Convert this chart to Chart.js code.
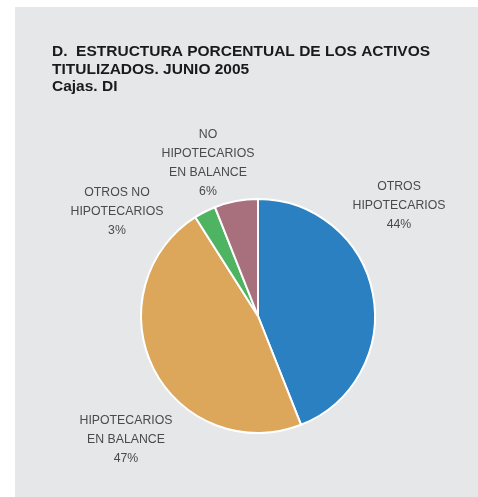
<!DOCTYPE html>
<html>
<head>
<meta charset="utf-8">
<script src="https://cdn.jsdelivr.net/npm/chart.js@4/dist/chart.umd.min.js"></script>
<style>
  html, body { margin: 0; padding: 0; background: #ffffff; }
  #wrap { width: 478px; height: 497px; position: relative; }
</style>
</head>
<body>
<div id="wrap"><canvas id="c" width="478" height="497"></canvas></div>
<script>
const categories = ["OTROS HIPOTECARIOS", "HIPOTECARIOS EN BALANCE", "OTROS NO HIPOTECARIOS", "NO HIPOTECARIOS EN BALANCE"];
const labelLines = [["OTROS", "HIPOTECARIOS"], ["HIPOTECARIOS", "EN BALANCE"], ["OTROS NO", "HIPOTECARIOS"], ["NO", "HIPOTECARIOS", "EN BALANCE"]];
const values = [44, 47, 3, 6];
const colors = ["#2a80c0", "#dca65b", "#4fb462", "#a8707c"];
const titleLines = ["D.  ESTRUCTURA PORCENTUAL DE LOS ACTIVOS", "TITULIZADOS. JUNIO 2005", "Cajas. DI"];

// label anchor (center x, first-line y) per slice
const labelPos = [[399, 187], [126, 421], [117, 193], [208, 135]];

const bgPlugin = {
  id: 'bg',
  beforeDraw(chart) {
    const ctx = chart.ctx;
    ctx.save();
    ctx.fillStyle = '#e6e7e9';
    ctx.fillRect(15, 7, chart.width - 15, chart.height - 7);
    ctx.fillStyle = '#1a1a1a';
    ctx.font = 'bold 15.5px "Liberation Sans", Arial, sans-serif';
    ctx.textBaseline = 'middle';
    ctx.textAlign = 'left';
    titleLines.forEach((t, i) => ctx.fillText(t, 52, 52 + i * 17.3));
    ctx.restore();
  },
  afterDraw(chart) {
    const ctx = chart.ctx;
    ctx.save();
    ctx.fillStyle = '#4a4a4a';
    ctx.font = '12.3px "Liberation Sans", Arial, sans-serif';
    ctx.textAlign = 'center';
    ctx.textBaseline = 'middle';
    values.forEach((v, i) => {
      const lines = labelLines[i].concat([v + '%']);
      const [x, y] = labelPos[i];
      lines.forEach((l, j) => ctx.fillText(l, x, y + j * 19));
    });
    ctx.restore();
  }
};

new Chart(document.getElementById('c'), {
  type: 'pie',
  data: {
    labels: categories,
    datasets: [{
      data: values,
      backgroundColor: colors,
      borderColor: '#ffffff',
      borderWidth: 2
    }]
  },
  options: {
    responsive: false,
    animation: false,
    rotation: 0,
    layout: { padding: { left: 140, right: 102, top: 198, bottom: 63 } },
    plugins: {
      legend: { display: false },
      tooltip: { enabled: false },
      title: { display: false }
    }
  },
  plugins: [bgPlugin]
});
</script>
</body>
</html>
